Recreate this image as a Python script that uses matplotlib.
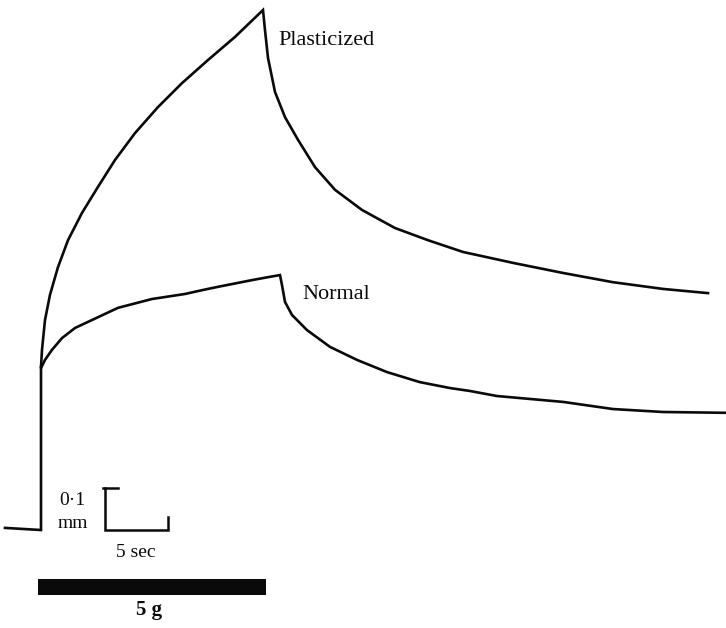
import matplotlib
matplotlib.use("Agg")
import matplotlib.pyplot as plt

# Time (s) and extension (mm)
base_t = [-2.86, 0.0, 0.0]
base_d = [0.005, 0.0, 0.388]

plast_t = [0.0, 0.079, 0.317, 0.714, 1.349, 2.143, 3.254, 4.524, 5.873, 7.460, 9.286, 11.190,
           13.254, 15.397, 17.619,
           17.778, 18.016, 18.571, 19.365, 20.397, 21.746, 23.333, 25.476, 28.095, 30.714,
           33.492, 37.460, 41.429, 45.397, 49.365, 52.937]
plast_d = [0.388, 0.429, 0.500, 0.560, 0.626, 0.690, 0.755, 0.817, 0.881, 0.945, 1.007, 1.064,
           1.119, 1.174, 1.238,
           1.190, 1.124, 1.043, 0.983, 0.929, 0.864, 0.810, 0.762, 0.719, 0.690,
           0.662, 0.636, 0.612, 0.590, 0.574, 0.564]

normal_t = [0.056, 0.317, 0.873, 1.667, 2.698, 4.048, 6.111, 8.810, 11.429, 12.778, 14.048,
            16.746, 18.016, 18.968,
            19.127, 19.365, 19.921, 21.111, 22.937, 25.079, 27.460, 30.079, 32.460, 34.048,
            36.190, 41.429, 45.397, 49.365, 54.444]
normal_d = [0.389, 0.405, 0.429, 0.457, 0.481, 0.500, 0.529, 0.550, 0.562, 0.571, 0.579,
            0.595, 0.602, 0.607,
            0.583, 0.543, 0.512, 0.476, 0.436, 0.405, 0.376, 0.352, 0.338, 0.331,
            0.319, 0.305, 0.288, 0.281, 0.279]

load_on, load_off = -0.24, 17.86
scale_t0, scale_sec = 5.08, 5.0
scale_mm = 0.1

fig = plt.figure(figsize=(7.26, 6.28), dpi=100)
ax = fig.add_axes([0, 0, 1, 1])
ax.set_xlim(-3.254, 54.365)
ax.set_ylim(-0.2333, 1.2619)
ax.axis("off")

lw = 1.9
col = "#0a0a0a"
ax.plot(base_t, base_d, color=col, lw=lw, solid_joinstyle="miter")
ax.plot(plast_t, plast_d, color=col, lw=lw, solid_joinstyle="miter")
ax.plot(normal_t, normal_d, color=col, lw=lw, solid_joinstyle="miter")

# scale bracket
ax.plot([scale_t0 - 0.16, scale_t0, scale_t0, scale_t0 + scale_sec, scale_t0 + scale_sec],
        [scale_mm, scale_mm, 0.0, 0.0, 0.031], color=col, lw=1.8, solid_joinstyle="miter")
ax.plot([scale_t0, scale_t0 + 1.03], [scale_mm, scale_mm], color=col, lw=1.8)

# load bar
ax.fill_between([load_on, load_off], -0.155, -0.117, color=col, lw=0)

serif = ["Liberation Serif", "DejaVu Serif"]
ax.text(18.81, 1.155, "Plasticized", family=serif, fontsize=16, va="baseline", ha="left", color=col)
ax.text(20.71, 0.550, "Normal", family=serif, fontsize=16, va="baseline", ha="left", color=col)
ax.text(2.46, 0.0595, "0·1", family=serif, fontsize=14, va="baseline", ha="center", color=col)
ax.text(2.54, 0.0048, "mm", family=serif, fontsize=14, va="baseline", ha="center", color=col)
ax.text(7.54, -0.064, "5 sec", family=serif, fontsize=14, va="baseline", ha="center", color=col)
ax.text(8.57, -0.202, "5 g", family=serif, fontsize=15, fontweight="bold", va="baseline", ha="center", color=col)

fig.savefig("out.png", dpi=100)
